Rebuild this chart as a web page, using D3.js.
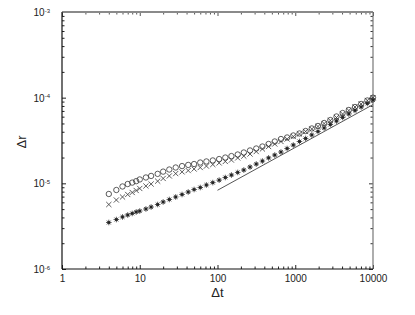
<!DOCTYPE html>
<html><head><meta charset="utf-8">
<script src="https://cdn.jsdelivr.net/npm/d3@7"></script>
<style>
html,body{margin:0;padding:0;background:#fff;}
svg{display:block;font-family:"Liberation Sans",Arial,sans-serif;}
</style></head>
<body><svg id="c" width="415" height="315"></svg>
<script>
// ---- data ----
const dt = [4,5,6,7,8,9,10,12,14,17,20,24,29,35,42,50,60,72,87,105,126,151,182,218,262,315,378,454,545,655,786,944,1133,1360,1633,1960,2353,2825,3391,4070,4886,5865,7040,8450,10000];
const circles = [7.51e-6,8.36e-6,9.19e-6,9.82e-6,1.02e-5,1.06e-5,1.11e-5,1.17e-5,1.22e-5,1.29e-5,1.37e-5,1.45e-5,1.53e-5,1.59e-5,1.64e-5,1.68e-5,1.75e-5,1.80e-5,1.85e-5,1.92e-5,2.00e-5,2.08e-5,2.17e-5,2.29e-5,2.42e-5,2.55e-5,2.69e-5,2.88e-5,3.08e-5,3.29e-5,3.43e-5,3.62e-5,3.82e-5,4.08e-5,4.37e-5,4.67e-5,5.06e-5,5.48e-5,6.03e-5,6.62e-5,7.18e-5,7.78e-5,8.44e-5,9.27e-5,1.0e-4];
const crosses = [5.66e-6,6.39e-6,6.93e-6,7.41e-6,7.82e-6,8.25e-6,8.71e-6,9.31e-6,9.82e-6,1.06e-5,1.14e-5,1.22e-5,1.30e-5,1.36e-5,1.41e-5,1.47e-5,1.53e-5,1.59e-5,1.66e-5,1.73e-5,1.80e-5,1.87e-5,1.98e-5,2.08e-5,2.20e-5,2.35e-5,2.52e-5,2.69e-5,2.88e-5,3.08e-5,3.29e-5,3.52e-5,3.77e-5,4.03e-5,4.31e-5,4.61e-5,4.99e-5,5.41e-5,5.87e-5,6.45e-5,7.09e-5,7.78e-5,8.44e-5,9.27e-5,1.0e-4];
const stars = [3.49e-6,3.78e-6,4.05e-6,4.27e-6,4.45e-6,4.63e-6,4.75e-6,5.02e-6,5.29e-6,5.66e-6,6.06e-6,6.48e-6,6.93e-6,7.41e-6,7.92e-6,8.47e-6,8.94e-6,9.56e-6,1.02e-5,1.09e-5,1.17e-5,1.25e-5,1.34e-5,1.43e-5,1.55e-5,1.68e-5,1.82e-5,1.98e-5,2.14e-5,2.32e-5,2.55e-5,2.80e-5,3.08e-5,3.34e-5,3.67e-5,4.03e-5,4.43e-5,4.86e-5,5.34e-5,5.87e-5,6.45e-5,7.09e-5,7.78e-5,8.55e-5,9.39e-5];
const refT = [100, 10000];
const refY = [8.3e-6, 8.3e-5];
const xMajor = [1,10,100,1000,10000];
const xMajorLabels = ["1","10","100","1000","10000"];
const yMajor = [1e-6,1e-5,1e-4,1e-3];
const yExponents = ["-6","-5","-4","-3"];
const xTitle = "Δt", yTitle = "Δr";

// ---- layout ----
const L = 62, R = 373, T = 12, B = 269;
const svg = d3.select("#c");
const x = d3.scaleLog().domain([1,10000]).range([L,R]);
const y = d3.scaleLog().domain([1e-6,1e-3]).range([B,T]);
const minorOf = (lo, hi) => { const a=[]; for(let e=lo;e<hi;e++) for(let m=2;m<=9;m++) a.push(m*Math.pow(10,e)); return a; };
const xMinor = minorOf(0,4), yMinor = minorOf(-6,-3);
const ink = "#222";

function styleAxis(g, col){ g.select(".domain").remove(); g.selectAll("line").attr("stroke", col).attr("stroke-width",1); g.selectAll("text").attr("fill",ink).attr("font-size",10); }

// bottom
svg.append("g").attr("transform",`translate(0,${B})`)
  .call(d3.axisBottom(x).tickValues(xMajor).tickSizeInner(-4).tickSizeOuter(0).tickPadding(6).tickFormat((d,i)=>xMajorLabels[i]))
  .call(g=>styleAxis(g,ink));
svg.append("g").attr("transform",`translate(0,${B})`)
  .call(d3.axisBottom(x).tickValues(xMinor).tickSizeInner(-2.5).tickSizeOuter(0).tickFormat(""))
  .call(g=>styleAxis(g,ink));
// top
svg.append("g").attr("transform",`translate(0,${T})`)
  .call(d3.axisTop(x).tickValues(xMajor).tickSizeInner(-4).tickSizeOuter(0).tickFormat(""))
  .call(g=>styleAxis(g,"#555"));
svg.append("g").attr("transform",`translate(0,${T})`)
  .call(d3.axisTop(x).tickValues(xMinor).tickSizeInner(-2.5).tickSizeOuter(0).tickFormat(""))
  .call(g=>styleAxis(g,"#555"));
// left
const la = svg.append("g").attr("transform",`translate(${L},0)`)
  .call(d3.axisLeft(y).tickValues(yMajor).tickSizeInner(-4).tickSizeOuter(0).tickPadding(12).tickFormat(""))
  .call(g=>styleAxis(g,ink));
la.selectAll(".tick").each(function(d,i){
  const t = d3.select(this).append("text").attr("x",-12).attr("dy","0.35em").attr("text-anchor","end").attr("fill",ink).attr("font-size",10);
  t.append("tspan").text("10");
  t.append("tspan").attr("dy","-0.55em").attr("font-size",6).text(yExponents[i]);
});
svg.append("g").attr("transform",`translate(${L},0)`)
  .call(d3.axisLeft(y).tickValues(yMinor).tickSizeInner(-2.5).tickSizeOuter(0).tickFormat(""))
  .call(g=>styleAxis(g,ink));
// right
svg.append("g").attr("transform",`translate(${R},0)`)
  .call(d3.axisRight(y).tickValues(yMajor).tickSizeInner(-4).tickSizeOuter(0).tickFormat(""))
  .call(g=>styleAxis(g,"#333"));
svg.append("g").attr("transform",`translate(${R},0)`)
  .call(d3.axisRight(y).tickValues(yMinor).tickSizeInner(-2.5).tickSizeOuter(0).tickFormat(""))
  .call(g=>styleAxis(g,"#333"));

// frame
svg.append("line").attr("x1",L).attr("x2",R).attr("y1",T).attr("y2",T).attr("stroke","#8a8a8a").attr("stroke-width",2);
svg.append("line").attr("x1",R).attr("x2",R).attr("y1",T).attr("y2",B).attr("stroke","#777").attr("stroke-width",1.2);
svg.append("line").attr("x1",L).attr("x2",R).attr("y1",B).attr("y2",B).attr("stroke","#111").attr("stroke-width",1.2);
svg.append("line").attr("x1",L).attr("x2",L).attr("y1",T).attr("y2",B).attr("stroke","#111").attr("stroke-width",1.2);

// titles
svg.append("text").attr("x",(L+R)/2).attr("y",297).attr("text-anchor","middle").attr("font-size",13).attr("fill",ink).text(xTitle);
svg.append("text").attr("transform",`translate(26,142) rotate(-90)`).attr("text-anchor","middle").attr("font-size",13).attr("fill",ink).text(yTitle);

// reference line
svg.append("path").datum(refT.map((t,i)=>[t,refY[i]]))
  .attr("d", d3.line().x(d=>x(d[0])).y(d=>y(d[1])))
  .attr("stroke","#555").attr("stroke-width",1).attr("fill","none");

// series
const pts = v => dt.map((t,i)=>({t, v:v[i]}));
svg.append("g").selectAll("circle").data(pts(circles)).join("circle")
  .attr("cx",d=>x(d.t)).attr("cy",d=>y(d.v)).attr("r",2.7)
  .attr("fill","none").attr("stroke","#333").attr("stroke-width",0.8);
const cr = 2.6;
svg.append("g").selectAll("path").data(pts(crosses)).join("path")
  .attr("d",d=>{const cx=x(d.t), cy=y(d.v); return `M${cx-cr},${cy-cr}L${cx+cr},${cy+cr}M${cx-cr},${cy+cr}L${cx+cr},${cy-cr}`;})
  .attr("stroke","#333").attr("stroke-width",0.8).attr("fill","none");
const sr = 2.8;
const sg = svg.append("g").selectAll("g").data(pts(stars)).join("g")
  .attr("transform",d=>`translate(${x(d.t)},${y(d.v)})`);
sg.append("path").attr("d",`M${-sr},0L${sr},0M0,${-sr}L0,${sr}M${-sr*0.7},${-sr*0.7}L${sr*0.7},${sr*0.7}M${-sr*0.7},${sr*0.7}L${sr*0.7},${-sr*0.7}`)
  .attr("stroke","#333").attr("stroke-width",0.8);
sg.append("rect").attr("x",-1.3).attr("y",-1.3).attr("width",2.6).attr("height",2.6).attr("fill","#222");
</script></body></html>
